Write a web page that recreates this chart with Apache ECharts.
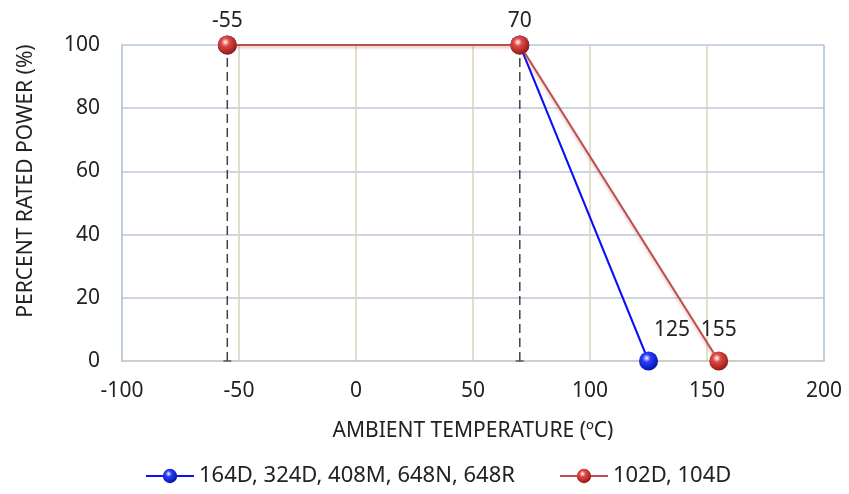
<!DOCTYPE html>
<html><head><meta charset="utf-8">
<script src="https://cdn.jsdelivr.net/npm/echarts@6/dist/echarts.min.js"></script>
<style>html,body{margin:0;padding:0;background:#fff}#c{width:849px;height:494px}</style>
</head><body><div id="c"></div>
<script>
var blueName = '164D, 324D, 408M, 648N, 648R';
var redName = '102D, 104D';
var blueTemps = [-55, 70, 125];
var bluePower = [100, 100, 0];
var redTemps = [-55, 70, 155];
var redPower = [100, 100, 0];
var guideTemps = [-55, 70];
var xTicks = [-100, 200, 50];
var yTicks = [0, 100, 20];

function sphere(c1, c2){
  return {type:'radial', x:0.4, y:0.35, r:0.7, colorStops:[{offset:0,color:'#ffffff'},{offset:0.3,color:c1},{offset:1,color:c2}]};
}
var font = 'Noto Sans';
var fs = 21;
var chart = echarts.init(document.getElementById('c'));
var series = [];
guideTemps.forEach(function(t){
  series.push({type:'line', data:[[t,0],[t,100]], symbol:'none', silent:true, z:1,
    lineStyle:{color:'#404040', width:1.5, type:[9,5]}});
  series.push({type:'scatter', data:[[t,0]], symbol:'rect', symbolSize:[8,1.5], silent:true, z:1,
    itemStyle:{color:'#404040'}});
});
var blueData = blueTemps.map(function(x,i){
  return {value:[x, bluePower[i]], label:{show: i === blueTemps.length-1}};
});
var redData = redTemps.map(function(x,i){
  return {value:[x, redPower[i]], label:{distance: redPower[i] === 0 ? 11 : 4}};
});
series.push({name: blueName, type:'line', data: blueData, z:3,
  symbol:'circle', symbolSize:19,
  lineStyle:{color:'#0a10f5', width:2},
  itemStyle:{color: sphere('#2a3cff','#0010a0'), borderWidth:0},
  label:{position:[33,-21], align:'center', verticalAlign:'middle', formatter:function(p){return p.value[0];}, fontFamily:font, fontSize:fs, color:'#222'}
});
series.push({name: redName, type:'line', data: redData, z:4,
  symbol:'circle', symbolSize:19,
  lineStyle:{color:'#b9504e', width:2, shadowColor:'rgba(185,80,78,0.4)', shadowBlur:3, shadowOffsetY:2},
  itemStyle:{color: sphere('#e04a45','#8e1410'), borderWidth:0},
  label:{show:true, position:'top', formatter:function(p){return p.value[0];}, fontFamily:font, fontSize:fs, color:'#222'}
});
chart.setOption({
  animation:false,
  textStyle:{fontFamily:font},
  grid:{left:122, right:25, top:45, bottom:133, show:false},
  legend:{data:[blueName, redName], top:465, left:145, padding:0, itemWidth:48, itemHeight:18, itemGap:44,
    textStyle:{fontFamily:font, fontSize:22, color:'#222'}},
  xAxis:{type:'value', min:xTicks[0], max:xTicks[1], interval:xTicks[2],
    name:'AMBIENT TEMPERATURE (ºC)', nameLocation:'middle', nameGap:60,
    nameTextStyle:{fontFamily:font, fontSize:21, color:'#222'},
    axisLine:{show:true, onZero:false, lineStyle:{color:'#bfbfbf', width:1.5}},
    axisTick:{show:false},
    axisLabel:{fontFamily:font, fontSize:fs, color:'#222', margin:20},
    splitLine:{show:true, showMinLine:false, showMaxLine:false, lineStyle:{color:'#d8d3bd', width:1.5}}
  },
  yAxis:{type:'value', min:yTicks[0], max:yTicks[1], interval:yTicks[2],
    name:'PERCENT RATED POWER (%)', nameLocation:'middle', nameGap:85, nameRotate:90,
    nameTextStyle:{fontFamily:font, fontSize:21, color:'#222', padding:[0,0,0,44]},
    axisLine:{show:true, onZero:false, lineStyle:{color:'#a9bcd4', width:1.5}},
    axisTick:{show:false},
    axisLabel:{fontFamily:font, fontSize:fs, color:'#222', margin:22},
    splitLine:{show:true, showMinLine:false, lineStyle:{color:'#b8c8dc', width:1.5}}
  },
  series: series.concat([{type:'line', data:[[200,0],[200,100]], symbol:'none', silent:true, z:0,
    lineStyle:{color:'#a9bcd4', width:1.5}}])
});
</script></body></html>
